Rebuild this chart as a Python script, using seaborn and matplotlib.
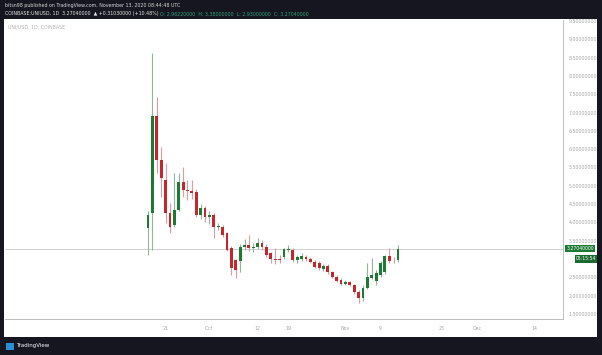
import numpy as np
import pandas as pd
import matplotlib
matplotlib.use("Agg")
import matplotlib.pyplot as plt
import seaborn as sns
from matplotlib.patches import Rectangle

# daily UNI/USD candles, Sep 17 - Nov 13 2020
start_date = "2020-09-17"
opens = [3.85, 4.26, 6.91, 5.70, 5.16, 4.26, 3.93, 4.34, 5.10, 4.89,
         4.86, 4.84, 4.20, 4.39, 4.15, 4.20, 3.87, 3.87, 3.71, 3.30,
         2.97, 2.95, 3.33, 3.38, 3.30, 3.33, 3.44, 3.33, 3.15, 3.00,
         2.99, 3.05, 3.25, 3.25, 2.97, 3.00, 3.05, 3.00, 2.92, 2.90,
         2.73, 2.81, 2.64, 2.51, 2.43, 2.32, 2.38, 2.29, 2.10, 1.93,
         2.21, 2.48, 2.40, 2.55, 2.65, 3.08, 2.98, 2.96]
highs = [4.30, 8.63, 7.43, 6.06, 5.62, 4.53, 5.35, 5.35, 5.51, 5.16,
         5.16, 4.90, 4.50, 4.45, 4.30, 4.25, 3.98, 3.92, 3.75, 3.35,
         3.00, 3.40, 3.55, 3.66, 3.45, 3.58, 3.52, 3.40, 3.18, 3.30,
         3.10, 3.30, 3.38, 3.30, 3.12, 3.15, 3.10, 3.05, 2.97, 2.95,
         2.86, 2.85, 2.68, 2.55, 2.48, 2.42, 2.41, 2.33, 2.15, 2.28,
         2.89, 3.03, 2.70, 2.95, 3.12, 3.30, 3.05, 3.38]
lows = [3.10, 3.25, 5.35, 4.69, 3.98, 3.71, 3.87, 4.30, 4.69, 4.61,
        4.65, 4.15, 4.10, 4.00, 3.95, 3.57, 3.80, 3.60, 3.22, 2.55,
        2.48, 2.65, 3.25, 3.22, 3.20, 3.28, 3.25, 3.05, 2.90, 2.85,
        2.88, 3.00, 3.18, 2.93, 2.90, 2.95, 2.95, 2.88, 2.74, 2.70,
        2.68, 2.60, 2.47, 2.36, 2.28, 2.28, 2.25, 2.03, 1.80, 1.86,
        2.18, 2.44, 2.30, 2.50, 2.60, 2.90, 2.88, 2.93]
closes = [4.20, 6.91, 5.70, 5.21, 4.26, 3.87, 4.34, 5.10, 4.89, 4.86,
          4.80, 4.20, 4.39, 4.15, 4.20, 3.87, 3.90, 3.66, 3.25, 2.75,
          2.70, 3.33, 3.38, 3.30, 3.33, 3.44, 3.33, 3.11, 3.00, 2.97,
          2.96, 3.27, 3.28, 2.97, 3.05, 3.08, 3.00, 2.92, 2.78, 2.75,
          2.81, 2.65, 2.51, 2.40, 2.32, 2.38, 2.29, 2.10, 1.93, 2.21,
          2.51, 2.56, 2.62, 2.89, 3.08, 2.95, 2.96, 3.27]

tick_dates = ["2020-09-21", "2020-10-01", "2020-10-12", "2020-10-19", "2020-11-01",
              "2020-11-09", "2020-11-23", "2020-12-01", "2020-12-14"]
tick_labels = ["21", "Oct", "12", "19", "Nov", "9", "23", "Dec", "14"]
price_ticks = [1.5, 2.0, 2.5, 3.0, 3.5, 4.0, 4.5, 5.0, 5.5, 6.0, 6.5, 7.0, 7.5, 8.0, 8.5, 9.0, 9.5]
hidden_tick = 3.0  # covered by the countdown tag
last_price = 3.2704

W, H = 602, 355
UP, DOWN = "#1d7a33", "#c1272d"
UP_WICK, DOWN_WICK = "#8fb59a", "#dc9b9e"
DARK = "#15161f"


def fx(px):
    return px / W


def fy(py):
    return 1 - py / H


sns.set_style("white")
plt.rcParams["font.family"] = ["DejaVu Sans"]

df = pd.DataFrame({"open": opens, "high": highs, "low": lows, "close": closes})
df["day"] = np.arange(len(df))
df["up"] = df["close"] >= df["open"]

fig = plt.figure(figsize=(W / 100, H / 100), dpi=100, facecolor=DARK)
# white chart panel, behind the axes
fig.patches.append(Rectangle((fx(4), fy(337)), fx(593), 318 / H, transform=fig.transFigure,
                             facecolor="white", edgecolor="none", zorder=-10))

ax = fig.add_axes([fx(5), fy(319), fx(558), (319 - 20) / H])
ax.set_facecolor("white")
ax.patch.set_alpha(0)

for is_up, grp in df.groupby("up"):
    wick = UP_WICK if is_up else DOWN_WICK
    body = UP if is_up else DOWN
    ax.vlines(grp["day"], grp["low"], grp["high"], color=wick, lw=0.8, zorder=2)
    ax.bar(grp["day"], (grp["close"] - grp["open"]).abs().clip(lower=0.02),
           bottom=grp[["open", "close"]].min(axis=1), width=0.65, color=body,
           edgecolor="none", zorder=3)

ax.axhline(last_price, color="#cfcfcf", lw=0.7, zorder=1)

ax.set_xlim(-32.6, 94.6)
ax.set_ylim(1.36, 9.53)

t0 = pd.Timestamp(start_date)
ax.set_xticks([(pd.Timestamp(d) - t0).days for d in tick_dates])
ax.set_xticklabels(tick_labels)
ax.yaxis.tick_right()
ax.set_yticks(price_ticks)
ax.set_yticklabels(["" if v == hidden_tick else f"{v:.8f}" for v in price_ticks])
ax.tick_params(axis="both", labelsize=3.4, colors="#a8a8a8", length=2, width=0.5,
               direction="inout")
ax.tick_params(axis="x", pad=4)
ax.tick_params(axis="y", pad=3)

sns.despine(ax=ax, left=True, top=True, right=False, bottom=False)
for side in ("right", "bottom"):
    ax.spines[side].set_color("#bdbdbd")
    ax.spines[side].set_linewidth(0.7)
ax.grid(False)

# header
fig.text(fx(5), fy(6), "bitsn98 published on TradingView.com, November 13, 2020 08:44:48 UTC",
         fontsize=3.4, color="#d8d8d8", va="center")
fig.text(fx(5), fy(14), "COINBASE:UNIUSD, 1D  3.27040000  \u25b2 +0.31030000 (+10.48%)",
         fontsize=3.4, color="#e6e6e6", va="center")
fig.text(fx(160), fy(14),
         "O: 2.96220000  H: 3.38000000  L: 2.93000000  C: 3.27040000",
         fontsize=3.4, color="#2fa37a", va="center")

fig.text(fx(8), fy(27), "UNI/USD, 1D, COINBASE", fontsize=3.4, color="#b0b0b0", va="center")

# last price tags
fig.text(fx(580), fy(248.5), "3.27040000", fontsize=3.3, color="white", ha="center", va="center",
         bbox=dict(boxstyle="square,pad=0.25", fc=UP, ec="none"), zorder=10)
fig.text(fx(586), fy(259), "05:15:54", fontsize=3.3, color="white", ha="center", va="center",
         bbox=dict(boxstyle="square,pad=0.25", fc="#1a6a2e", ec="none"), zorder=10)

# footer
fig.patches.append(Rectangle((fx(6), fy(350)), fx(8), 7 / H, transform=fig.transFigure,
                             facecolor="#2b8fd6", edgecolor="none"))
fig.text(fx(16), fy(346), "TradingView", fontsize=4, color="white", va="center")

fig.savefig("out.png", dpi=100, facecolor=DARK)
